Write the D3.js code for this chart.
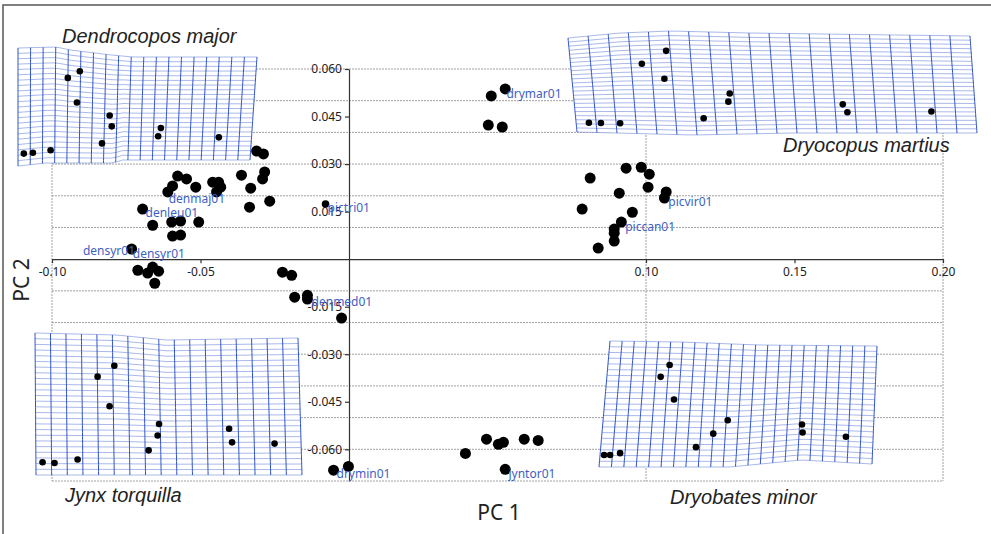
<!DOCTYPE html>
<html>
<head>
<meta charset="utf-8">
<script src="https://cdn.jsdelivr.net/npm/d3@7"></script>
<style>
body { margin:0; background:#fff; }
svg { display:block; }
</style>
</head>
<body>
<svg id="chart"></svg>
<script>
const width = 991;
const height = 534;

// PC scores (Dendrocopos, Dryocopus, Picus, drymin, Jynx)
const pc1 = [-0.0311,-0.0288,-0.0362,-0.0284,-0.0291,-0.0331,-0.0267,-0.0335,-0.0577,-0.0547,-0.0594,-0.0516,
  -0.0610,-0.0459,-0.0439,-0.0432,-0.0446,-0.0695,-0.0661,-0.0597,-0.0567,-0.0506,-0.0594,-0.0567,-0.0732,
  -0.0711,-0.0678,-0.0661,-0.0641,-0.0654,-0.0224,-0.0193,-0.0183,-0.0140,-0.0140,-0.0025,
  0.0526,0.0479,0.0469,0.0516,
  0.0933,0.0984,0.1011,0.0812,0.1007,0.1068,0.1062,0.0910,0.0785,0.0954,0.0917,0.0893,0.0893,0.0893,0.0839,
  -0.0052,-0.0002,
  0.0392,0.0463,0.0503,0.0520,0.0526,0.0590,0.0637];
const pc2 = [0.0341,0.0332,0.0265,0.0275,0.0253,0.0224,0.0183,0.0164,0.0262,0.0253,0.0231,0.0227,
  0.0212,0.0243,0.0243,0.0227,0.0212,0.0158,0.0107,0.0117,0.0120,0.0117,0.0073,0.0076,0.0032,
  -0.0035,-0.0044,-0.0025,-0.0038,-0.0076,-0.0041,-0.0051,-0.0120,-0.0114,-0.0126,-0.0186,
  0.0537,0.0515,0.0423,0.0417,
  0.0287,0.0290,0.0268,0.0256,0.0227,0.0212,0.0193,0.0208,0.0158,0.0148,0.0117,0.0095,0.0082,0.0057,0.0035,
  -0.0666,-0.0654,
  -0.0613,-0.0568,-0.0584,-0.0578,-0.0663,-0.0568,-0.0572];

// the pictri specimen is plotted with a smaller marker
const pictriPc1 = [-0.0079];
const pictriPc2 = [0.0174];

const labelNames = ['drymar01','pictri01','denmaj01','denleu01','densyr01','densyr01','denmed01','picvir01','piccan01','drymin01','jyntor01'];
const labelPc1 = [0.0530,-0.0072,-0.0607,-0.0685,-0.0896,-0.0728,-0.0126,0.1075,0.0930,-0.0042,0.0537];
const labelPc2 = [0.0521,0.0161,0.0189,0.0145,0.0025,0.0016,-0.0136,0.0180,0.0101,-0.0679,-0.0679];

const xTicks = [-0.10,-0.05,0.10,0.15,0.20];
const yTicks = [0.060,0.045,0.030,0.015,-0.015,-0.030,-0.045,-0.060];
const hGrid = [0.06,0.05,0.04,0.03,0.02,0.01,-0.01,-0.02,-0.03,-0.04,-0.05,-0.06,-0.07];
const vGrid = [-0.10,0.10,0.20];

// deformation grid insets (pixel layout, landmarks in grid units u,v)
const insets = [
  { title:'Dendrocopos major', tx:62, ty:43, cols:19, rows:22,
    left:[18,18], right:[257,250],
    top:[[0,48],[0.16,47],[0.22,50],[0.39,55],[0.48,57],[1,57]],
    bottom:[[0,166],[0.12,163],[0.41,163],[0.45,160],[1,160]],
    marks:[[0.025,0.90],[0.064,0.90],[0.14,0.89],[0.21,0.25],[0.26,0.18],[0.25,0.46],
      [0.39,0.56],[0.40,0.66],[0.36,0.82],[0.61,0.69],[0.60,0.77],[0.86,0.78]] },
  { title:'Dryocopus martius', tx:783, ty:152, cols:20, rows:23,
    left:[568,577], right:[970,977],
    top:[[0,38],[0.13,33],[0.254,31],[0.45,33],[1,36]],
    bottom:[[0,132],[0.29,135],[0.54,133],[1,133]],
    marks:[[0.032,0.90],[0.062,0.90],[0.11,0.90],[0.177,0.31],[0.24,0.19],[0.23,0.46],
      [0.32,0.84],[0.39,0.60],[0.385,0.68],[0.67,0.71],[0.68,0.79],[0.89,0.78]] },
  { title:'Jynx torquilla', tx:65, ty:502, cols:17, rows:25,
    left:[35,36], right:[298,302],
    top:[[0,333],[0.31,335],[0.5,340],[1,338]],
    bottom:[[0,475],[1,475]],
    marks:[[0.025,0.91],[0.07,0.915],[0.157,0.89],[0.236,0.30],[0.30,0.22],[0.28,0.51],
      [0.466,0.625],[0.46,0.71],[0.425,0.82],[0.73,0.66],[0.74,0.76],[0.90,0.77]] },
  { title:'Dryobates minor', tx:670, ty:504, cols:22, rows:22,
    left:[610,599], right:[877,872],
    top:[[0,341],[0.26,342],[0.56,345],[1,346]],
    bottom:[[0,467],[0.48,467],[0.74,460],[1,464]],
    marks:[[0.015,0.905],[0.037,0.905],[0.073,0.89],[0.20,0.28],[0.23,0.185],[0.256,0.46],
      [0.35,0.84],[0.41,0.73],[0.46,0.62],[0.736,0.69],[0.74,0.76],[0.90,0.78]] }
];

const svg = d3.select('#chart')
    .attr('width', width)
    .attr('height', height);

const x = d3.scaleLinear().domain([-0.10,0.20]).range([52,943]);
const y = d3.scaleLinear().domain([-0.07,0.06]).range([481,69]);

// frame
svg.append('rect')
    .attr('x',3).attr('y',5)
    .attr('width',1000).attr('height',540)
    .attr('fill','none')
    .attr('stroke','#555')
    .attr('stroke-width',1.5);

// dashed grid
svg.append('g').selectAll('line')
  .data(hGrid)
  .enter().append('line')
    .attr('x1', x(-0.10)).attr('x2', x(0.20))
    .attr('y1', d=> y(d)).attr('y2', d=> y(d))
    .attr('stroke','#a0a0a0')
    .attr('stroke-dasharray','2,1');
svg.append('g').selectAll('line')
  .data(vGrid)
  .enter().append('line')
    .attr('x1', d=> x(d)).attr('x2', d=> x(d))
    .attr('y1', y(0.06)).attr('y2', y(-0.07))
    .attr('stroke','#a0a0a0')
    .attr('stroke-dasharray','2,1');

// axes through the origin
const xAxis = svg.append('g')
    .attr('transform', `translate(0,${y(0)})`)
    .call(d3.axisBottom(x).tickValues(xTicks).tickSize(4).tickSizeOuter(0).tickPadding(4)
      .tickFormat(d=> d.toFixed(2)));
const yAxis = svg.append('g')
    .attr('transform', `translate(${x(0)},0)`)
    .call(d3.axisLeft(y).tickValues(yTicks).tickSize(4).tickSizeOuter(0).tickPadding(3)
      .tickFormat(d=> d.toFixed(3)));
[xAxis, yAxis].forEach(a=> {
  a.selectAll('path, line').attr('stroke','#333').attr('stroke-width',1.2);
  a.selectAll('text')
      .attr('fill','#222')
      .style('font-family','"Noto Sans", sans-serif')
      .style('font-size','12px');
});

// deformation grids
const warp = g => {
  const topY = d3.scaleLinear().domain(g.top.map(d=> d[0])).range(g.top.map(d=> d[1]));
  const botY = d3.scaleLinear().domain(g.bottom.map(d=> d[0])).range(g.bottom.map(d=> d[1]));
  const topX = d3.scaleLinear().range([g.left[0], g.right[0]]);
  const botX = d3.scaleLinear().range([g.left[1], g.right[1]]);
  return (u,v)=> [topX(u)+(botX(u)-topX(u))*v, topY(u)+(botY(u)-topY(u))*v];
};
const line = d3.line();
const steps = d3.range(0,1.0001,0.025);

insets.forEach(g=> {
  const p = warp(g);
  const ins = svg.append('g');
  const outline = steps.map(u=> p(u,0))
    .concat(steps.map(v=> p(1,v)))
    .concat(steps.slice().reverse().map(u=> p(u,1)))
    .concat(steps.slice().reverse().map(v=> p(0,v)));
  ins.append('path')
      .attr('d', line(outline) + 'Z')
      .attr('fill','#fff');
  ins.append('g').selectAll('path')
    .data(d3.range(g.rows+1).map(j=> j/g.rows))
    .enter().append('path')
      .attr('d', v=> line(steps.map(u=> p(u,v))))
      .attr('fill','none')
      .attr('stroke','#4a6ad0')
      .attr('stroke-opacity',0.6)
      .attr('stroke-width',0.8);
  ins.append('g').selectAll('path')
    .data(d3.range(g.cols+1).map(i=> i/g.cols))
    .enter().append('path')
      .attr('d', u=> line(steps.map(v=> p(u,v))))
      .attr('fill','none')
      .attr('stroke','#2f52c4')
      .attr('stroke-width',1);
  ins.append('g').selectAll('circle')
    .data(g.marks)
    .enter().append('circle')
      .attr('cx', d=> p(d[0],d[1])[0])
      .attr('cy', d=> p(d[0],d[1])[1])
      .attr('r',3.3)
      .attr('fill','#000');
  svg.append('text')
      .text(g.title)
      .attr('x', g.tx)
      .attr('y', g.ty)
      .attr('fill','#222')
      .style('font-family','"Liberation Sans", Arial, sans-serif')
      .style('font-style','italic')
      .style('font-size','20px');
});

// specimens
svg.append('g').selectAll('circle')
  .data(pc1.map((d,i)=> [d, pc2[i]]))
  .enter().append('circle')
    .attr('cx', d=> x(d[0]))
    .attr('cy', d=> y(d[1]))
    .attr('r',5.5)
    .attr('fill','#000');
svg.append('g').selectAll('circle')
  .data(pictriPc1.map((d,i)=> [d, pictriPc2[i]]))
  .enter().append('circle')
    .attr('cx', d=> x(d[0]))
    .attr('cy', d=> y(d[1]))
    .attr('r',3.8)
    .attr('fill','#000');

svg.append('g').selectAll('text')
  .data(labelNames)
  .enter().append('text')
    .text(d=> d)
    .attr('x', (d,i)=> x(labelPc1[i]))
    .attr('y', (d,i)=> y(labelPc2[i]) + 4)
    .attr('fill','#3d5fc4')
    .style('font-family','"Noto Sans", sans-serif')
    .style('font-size','12px');

// axis titles
svg.append('text')
    .text('PC 1')
    .attr('x',499).attr('y',520)
    .attr('text-anchor','middle')
    .attr('fill','#222')
    .style('font-family','"Noto Sans", sans-serif')
    .style('font-size','21px');
svg.append('text')
    .text('PC 2')
    .attr('transform','translate(29,280) rotate(-90)')
    .attr('text-anchor','middle')
    .attr('fill','#222')
    .style('font-family','"Noto Sans", sans-serif')
    .style('font-size','21px');
</script>
</body>
</html>
